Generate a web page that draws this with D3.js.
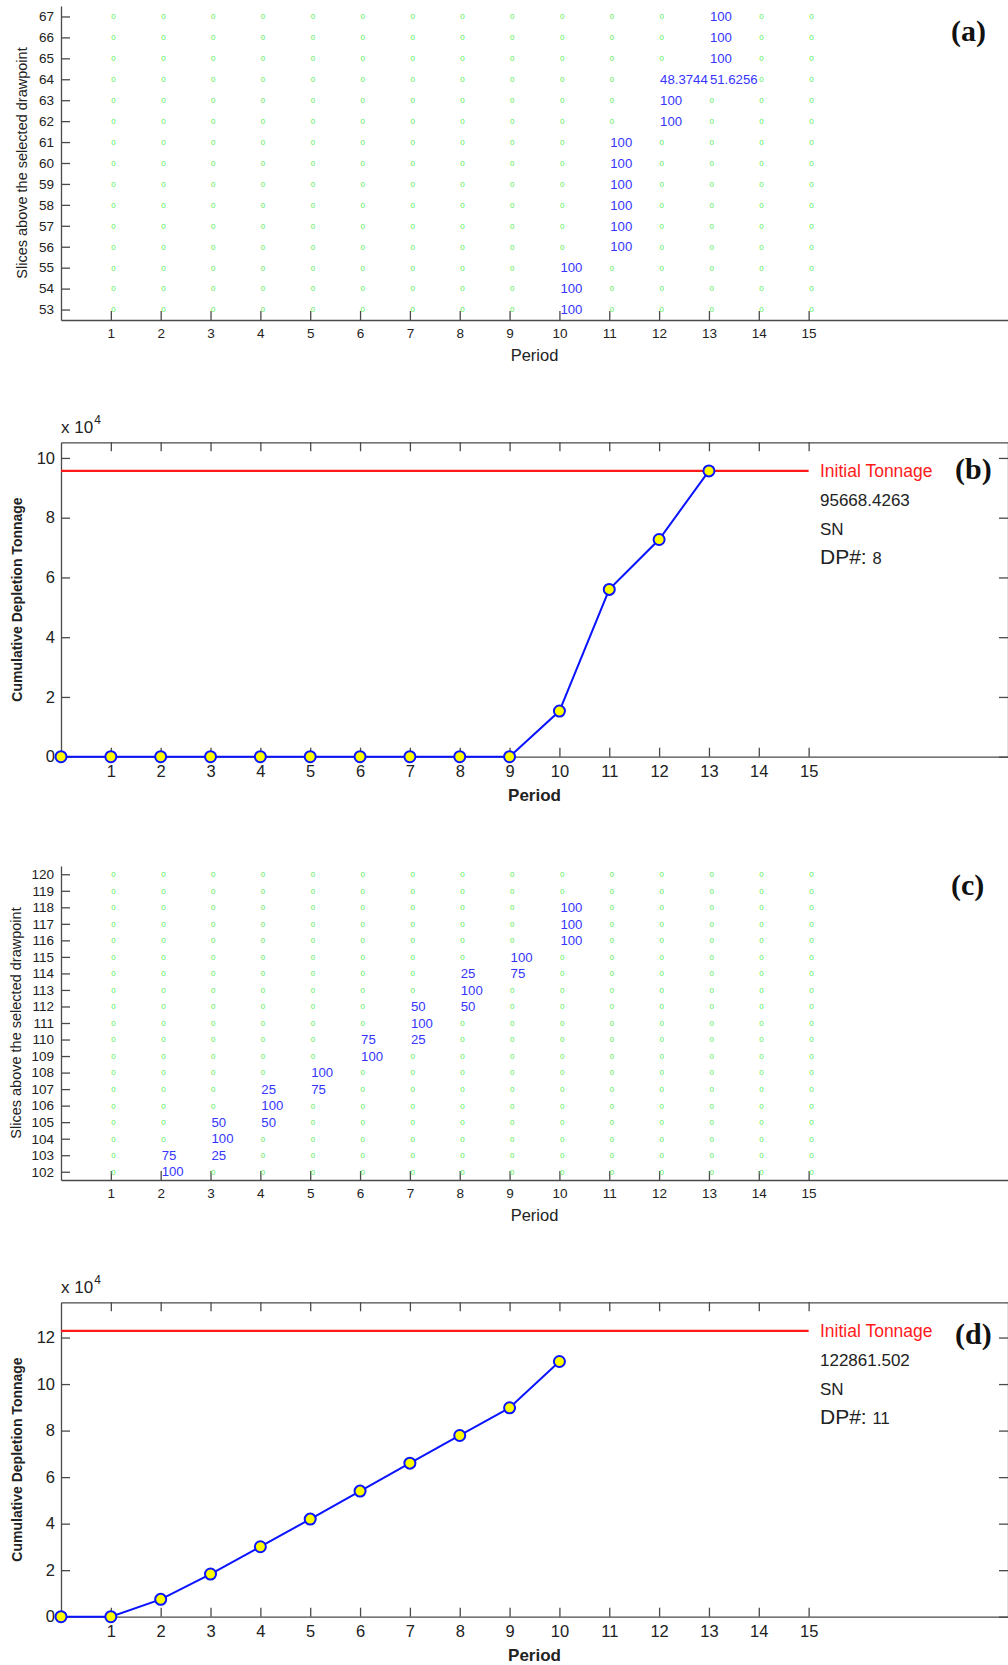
<!DOCTYPE html>
<html>
<head>
<meta charset="utf-8">
<script src="https://cdn.jsdelivr.net/npm/d3@7"></script>
<style>
  body { margin: 0; background: #fff; }
  svg { display: block; }
</style>
</head>
<body>
<svg id="fig" width="1008" height="1665"></svg>
<script>
// ---- data ----
const periodTicks = [1, 2, 3, 4, 5, 6, 7, 8, 9, 10, 11, 12, 13, 14, 15];

// slices above the drawpoint shown in the depletion grids
const slicesA = [53, 54, 55, 56, 57, 58, 59, 60, 61, 62, 63, 64, 65, 66, 67];
const slicesC = [102, 103, 104, 105, 106, 107, 108, 109, 110, 111, 112, 113, 114, 115, 116, 117, 118, 119, 120];

// [period, slice, percent depleted]
const depletedA = [
  [10, 53, 100], [10, 54, 100], [10, 55, 100],
  [11, 56, 100], [11, 57, 100], [11, 58, 100], [11, 59, 100], [11, 60, 100], [11, 61, 100],
  [12, 62, 100], [12, 63, 100], [12, 64, 48.3744],
  [13, 64, 51.6256], [13, 65, 100], [13, 66, 100], [13, 67, 100]
];
const depletedC = [
  [2, 102, 100], [2, 103, 75],
  [3, 103, 25], [3, 104, 100], [3, 105, 50],
  [4, 105, 50], [4, 106, 100], [4, 107, 25],
  [5, 107, 75], [5, 108, 100],
  [6, 109, 100], [6, 110, 75],
  [7, 110, 25], [7, 111, 100], [7, 112, 50],
  [8, 112, 50], [8, 113, 100], [8, 114, 25],
  [9, 114, 75], [9, 115, 100],
  [10, 116, 100], [10, 117, 100], [10, 118, 100]
];

// cumulative depletion tonnage per period
const periodsB = [0, 1, 2, 3, 4, 5, 6, 7, 8, 9, 10, 11, 12, 13];
const tonnageB = [0, 0, 0, 0, 0, 0, 0, 0, 0, 0, 15280, 56000, 72700, 95668.4263];
const initialB = 95668.4263;
const drawpointB = 8;

const periodsD = [0, 1, 2, 3, 4, 5, 6, 7, 8, 9, 10];
const tonnageD = [0, 0, 7470, 18340, 30070, 41970, 54000, 66000, 77900, 89800, 109700];
const initialD = 122861.502;
const drawpointD = 11;

const tonTicksB = [0, 2, 4, 6, 8, 10];
const tonTicksD = [0, 2, 4, 6, 8, 10, 12];

// ---- drawing ----
const SANS = "'Liberation Sans', Arial, Helvetica, sans-serif";
const SERIF = "'Liberation Serif', 'Times New Roman', serif";
const AXIS = "#4a4a4a";
const TXT = "#222";

const svg = d3.select("#fig");
svg.append("rect").attr("width", 1008).attr("height", 1665).attr("fill", "#fff");

const x = d3.scaleLinear().domain([0, 19]).range([61, 1008]);

function styleAxis(g, size) {
  g.attr("font-family", SANS).attr("font-size", size);
  g.selectAll(".domain").attr("stroke", AXIS).attr("stroke-width", 1.3);
  g.selectAll(".tick line").attr("stroke", AXIS).attr("stroke-width", 1.3);
  g.selectAll(".tick text").attr("fill", TXT);
}

function tag(label, cx, cy) {
  svg.append("text")
    .attr("x", cx).attr("y", cy)
    .attr("dy", "0.27em")
    .attr("font-family", SERIF).attr("font-weight", "bold")
    .attr("font-size", 30).attr("fill", "#111")
    .text(label);
}

function gridPanel(top, bottom, slices, yDomain, depleted, yTitleX, label, tagY) {
  const y = d3.scaleLinear().domain(yDomain).range([bottom, top]);
  const g = svg.append("g");

  const xa = g.append("g").attr("transform", `translate(0,${bottom})`)
    .call(d3.axisBottom(x).tickValues(periodTicks).tickSize(-9).tickSizeOuter(0).tickPadding(8));
  styleAxis(xa, 13.5);

  const ya = g.append("g").attr("transform", `translate(${x(0)},0)`)
    .call(d3.axisLeft(y).tickValues(slices).tickFormat(d3.format("d")).tickSize(-9).tickSizeOuter(0).tickPadding(7));
  styleAxis(ya, 13.5);

  const key = (p, s) => p + ":" + s;
  const done = new Set(depleted.map(d => key(d[0], d[1])));

  const cells = [];
  periodTicks.forEach(p => slices.forEach(s => { if (!done.has(key(p, s))) cells.push([p, s]); }));

  g.append("g").selectAll("text").data(cells).join("text")
    .attr("x", d => x(d[0]) + 0.5)
    .attr("y", d => y(d[1]))
    .attr("dy", "0.36em")
    .attr("font-family", SANS).attr("font-size", 8)
    .attr("fill", "#55ee55")
    .text("0");

  g.append("g").selectAll("text").data(depleted).join("text")
    .attr("x", d => x(d[0]) + 1)
    .attr("y", d => y(d[1]))
    .attr("dy", "0.36em")
    .attr("font-family", SANS).attr("font-size", 13.2)
    .attr("fill", "#3535ff")
    .text(d => String(d[2]));

  g.append("text")
    .attr("transform", `translate(${yTitleX},${(top + bottom) / 2}) rotate(-90)`)
    .attr("text-anchor", "middle").attr("dy", "0.35em")
    .attr("font-family", SANS).attr("font-size", 14.5).attr("fill", TXT)
    .text("Slices above the selected drawpoint");

  g.append("text")
    .attr("x", (x.range()[0] + x.range()[1]) / 2).attr("y", bottom + 35)
    .attr("text-anchor", "middle").attr("dy", "0.35em")
    .attr("font-family", SANS).attr("font-size", 16.5).attr("fill", TXT)
    .text("Period");

  tag(label, 951, tagY);
}

function curvePanel(top, bottom, periods, tonnage, initial, dp, tonTicks, label, tagY) {
  const y = d3.scaleLinear().domain([0, initial * 1.1]).range([bottom, top]);
  const g = svg.append("g");
  const ticksY = tonTicks.map(t => t * 1e4);

  const xb = g.append("g").attr("transform", `translate(0,${bottom})`)
    .call(d3.axisBottom(x).tickValues(periodTicks).tickSize(-9).tickSizeOuter(0).tickPadding(9));
  styleAxis(xb, 16.5);
  const xt = g.append("g").attr("transform", `translate(0,${top})`)
    .call(d3.axisTop(x).tickValues(periodTicks).tickFormat("").tickSize(-9).tickSizeOuter(0));
  styleAxis(xt, 16.5);
  const yl = g.append("g").attr("transform", `translate(${x(0)},0)`)
    .call(d3.axisLeft(y).tickValues(ticksY).tickFormat(d => d3.format("d")(d / 1e4)).tickSize(-9).tickSizeOuter(0).tickPadding(6));
  styleAxis(yl, 16.5);
  const yr = g.append("g").attr("transform", `translate(${x(19)},0)`)
    .call(d3.axisRight(y).tickValues(ticksY).tickFormat("").tickSize(-9).tickSizeOuter(0));
  styleAxis(yr, 16.5);

  // exponent label
  const ex = g.append("text").attr("x", x(0)).attr("y", top - 9)
    .attr("font-family", SANS).attr("font-size", 17).attr("fill", TXT);
  ex.append("tspan").text("x 10");
  ex.append("tspan").attr("font-size", 12).attr("dy", -9).attr("dx", 1).text("4");

  // initial tonnage reference line
  g.append("line")
    .attr("x1", x(0)).attr("x2", x(15))
    .attr("y1", y(initial)).attr("y2", y(initial))
    .attr("stroke", "#ff1a1a").attr("stroke-width", 2.2);

  const pts = periods.map((p, i) => [p, tonnage[i]]);
  g.append("path").datum(pts)
    .attr("fill", "none").attr("stroke", "#0a14ff").attr("stroke-width", 2)
    .attr("d", d3.line().x(d => x(d[0])).y(d => y(d[1])));
  g.append("g").selectAll("circle").data(pts).join("circle")
    .attr("cx", d => x(d[0])).attr("cy", d => y(d[1])).attr("r", 5.5)
    .attr("fill", "#ffff00").attr("stroke", "#0a14ff").attr("stroke-width", 2);

  // annotations
  const ax = 820, ay = y(initial);
  g.append("text").attr("x", ax).attr("y", ay).attr("dy", "0.35em")
    .attr("font-family", SANS).attr("font-size", 17.5).attr("fill", "#ff1a1a")
    .text("Initial Tonnage");
  g.append("text").attr("x", ax).attr("y", ay + 29.5).attr("dy", "0.35em")
    .attr("font-family", SANS).attr("font-size", 17).attr("fill", TXT)
    .text(String(initial));
  g.append("text").attr("x", ax).attr("y", ay + 57.7).attr("dy", "0.35em")
    .attr("font-family", SANS).attr("font-size", 17).attr("fill", TXT)
    .text("SN");
  const dpt = g.append("text").attr("x", ax).attr("y", ay + 86).attr("dy", "0.35em")
    .attr("font-family", SANS).attr("font-size", 21).attr("fill", TXT);
  dpt.append("tspan").text("DP#: ");
  dpt.append("tspan").attr("font-size", 16.5).text(String(dp));

  g.append("text")
    .attr("transform", `translate(17.5,${(top + bottom) / 2}) rotate(-90)`)
    .attr("text-anchor", "middle").attr("dy", "0.35em")
    .attr("font-family", SANS).attr("font-weight", "bold").attr("font-size", 14).attr("fill", TXT)
    .text("Cumulative Depletion Tonnage");

  g.append("text")
    .attr("x", (x.range()[0] + x.range()[1]) / 2).attr("y", bottom + 38)
    .attr("text-anchor", "middle").attr("dy", "0.35em")
    .attr("font-family", SANS).attr("font-weight", "bold").attr("font-size", 17).attr("fill", TXT)
    .text("Period");

  tag(label, 955, tagY);
}

gridPanel(6, 320, slicesA, [52.5, 67.5], depletedA, 22, "(a)", 33);
curvePanel(442.3, 756.7, periodsB, tonnageB, initialB, drawpointB, tonTicksB, "(b)", 471);
gridPanel(866, 1180, slicesC, [101.5, 120.5], depletedC, 15.5, "(c)", 887);
curvePanel(1302.3, 1616.7, periodsD, tonnageD, initialD, drawpointD, tonTicksD, "(d)", 1336);
</script>
</body>
</html>
